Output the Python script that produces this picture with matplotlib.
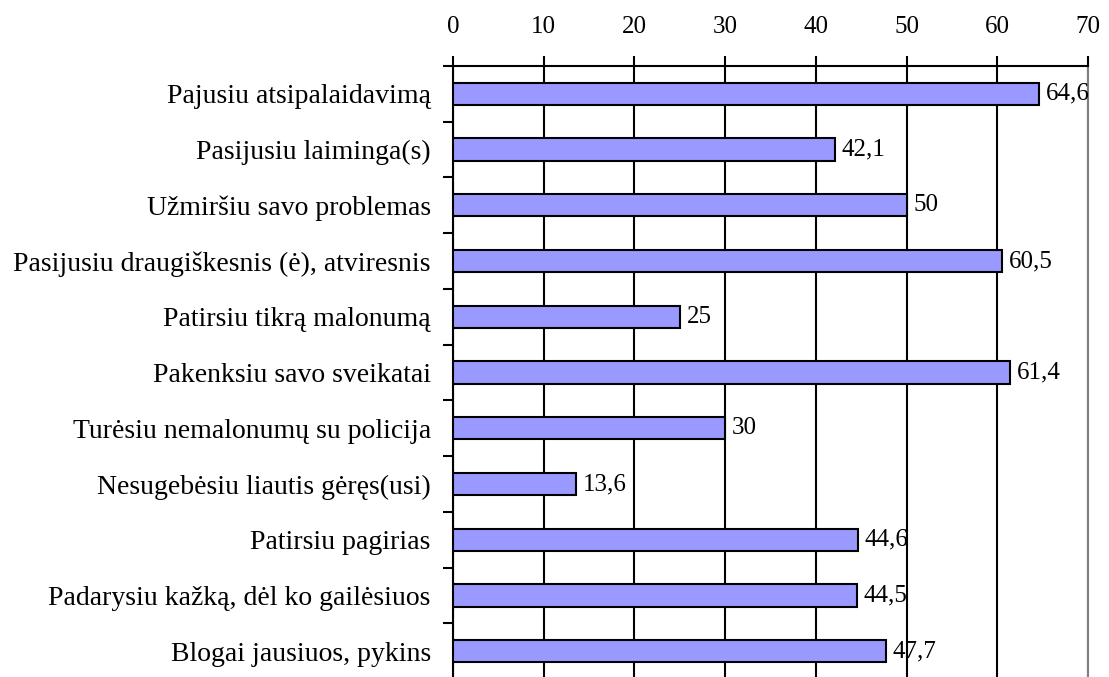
"""
Horizontal bar chart of expectations (percent)
"""

import matplotlib
matplotlib.use("Agg")
import matplotlib.pyplot as plt
from matplotlib.ticker import FixedLocator

# Data
CATEGORIES = [
    "Pajusiu atsipalaidavimą",
    "Pasijusiu laiminga(s)",
    "Užmiršiu savo problemas",
    "Pasijusiu draugiškesnis (ė), atviresnis",
    "Patirsiu tikrą malonumą",
    "Pakenksiu savo sveikatai",
    "Turėsiu nemalonumų su policija",
    "Nesugebėsiu liautis gėręs(usi)",
    "Patirsiu pagirias",
    "Padarysiu kažką, dėl ko gailėsiuos",
    "Blogai jausiuos, pykins",
]
VALUES = [64.6, 42.1, 50, 60.5, 25, 61.4, 30, 13.6, 44.6, 44.5, 47.7]
X_TICKS = [0, 10, 20, 30, 40, 50, 60, 70]

BAR_COLOR = "#9999FF"
LW = 1.5
FS_CAT = 20
FS_NUM = 18

plt.rcParams['font.family'] = ['Liberation Serif', 'DejaVu Serif']

fig = plt.figure(figsize=(11.09, 6.77), dpi=100)
ax = fig.add_axes([0.4085, -0.003, 0.5725, 0.9055])

ypos = list(range(len(CATEGORIES)))
ax.barh(ypos, VALUES, height=0.4, color=BAR_COLOR, edgecolor="black",
        linewidth=LW, zorder=3)

for y, v in zip(ypos, VALUES):
    label = f"{v:g}".replace(".", ",")
    ax.annotate(label, (v, y), xytext=(5, 0), textcoords="offset points",
                va="center", ha="left", fontsize=FS_NUM, zorder=4)

ax.set_xlim(0, 70)
ax.set_ylim(len(CATEGORIES) - 0.5, -0.5)

ax.xaxis.tick_top()
ax.set_xticks(X_TICKS)
ax.tick_params(axis="x", which="major", length=7, width=LW, pad=13,
               labelsize=FS_NUM, direction="out")
ax.xaxis.grid(True, color="black", linewidth=LW, zorder=0)

ax.set_yticks(ypos)
ax.set_yticklabels(CATEGORIES, fontsize=FS_CAT)
ax.tick_params(axis="y", which="major", length=0, pad=16)
ax.yaxis.set_minor_locator(FixedLocator([i - 0.5 for i in range(len(CATEGORIES) + 1)]))
ax.tick_params(axis="y", which="minor", length=7, width=LW, direction="out")

ax.spines["top"].set_linewidth(LW)
ax.spines["left"].set_linewidth(LW)
ax.spines["right"].set_color("#808080")
ax.spines["right"].set_linewidth(LW)
ax.spines["bottom"].set_visible(False)

fig.savefig("out.png", dpi=100)
